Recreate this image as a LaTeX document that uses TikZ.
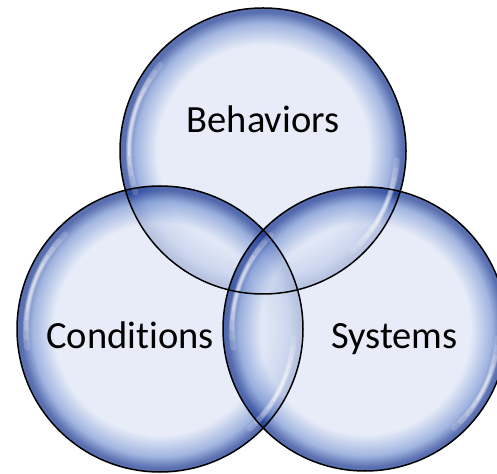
\documentclass[tikz,border=0pt]{standalone}
\usepackage{fontspec}
\setmainfont{Carlito}[Ligatures=NoCommon]
\definecolor{blight}{RGB}{222,229,245}
\definecolor{bmid}{RGB}{125,152,212}
\definecolor{bdark}{RGB}{25,55,145}
\pgfdeclareradialshading{bubble}{\pgfpoint{0bp}{0bp}}{color(0bp)=(blight); color(18.5bp)=(blight); color(22.3bp)=(bmid); color(24.3bp)=(bdark); color(25bp)=(bdark); color(50bp)=(bdark)}
\newcommand\myglint[4]{%
  \foreach \w/\o/\s in {6/0.16/0, 5/0.16/4, 4/0.18/8, 3/0.22/12, 2/0.3/16}{%
    \draw[gleam, line width=\w pt, draw opacity=\o] (#1) ++({#3+\s}:#2) arc[start angle={#3+\s}, end angle={#4-\s}, radius=#2];
  }}
\begin{document}
\begin{tikzpicture}[x=1pt,y=1pt,
  bubble/.style={shading=bubble, fill opacity=0.72},
  rimline/.style={draw=black, line width=1.5pt},
  gleam/.style={draw=white, line cap=round},
  lab/.style={font=\fontsize{38.5}{46}\selectfont, anchor=base, text=black, inner sep=0pt}]
\useasboundingbox (0,0) rectangle (497,473);
\coordinate (B) at (263,322);
\coordinate (C) at (160,144);
\coordinate (S) at (365,144);
\shade[bubble] (B) circle (143);
\shade[bubble] (C) circle (143);
\shade[bubble] (S) circle (142);
\myglint{B}{134}{140}{198}
\myglint{B}{134}{-48}{-4}
\myglint{C}{134}{135}{188}
\myglint{C}{134}{-48}{-4}
\myglint{S}{133}{135}{188}
\myglint{S}{133}{-48}{-4}
\draw[rimline] (B) circle (143);
\draw[rimline] (C) circle (143);
\draw[rimline] (S) circle (142);
\node[lab] (tb) at (263,340) {Behaviors};
\node[lab] (tc) at (130,124) {Conditions};
\node[lab] (ts) at (394.5,124) {Systems};
\end{tikzpicture}
\end{document}
